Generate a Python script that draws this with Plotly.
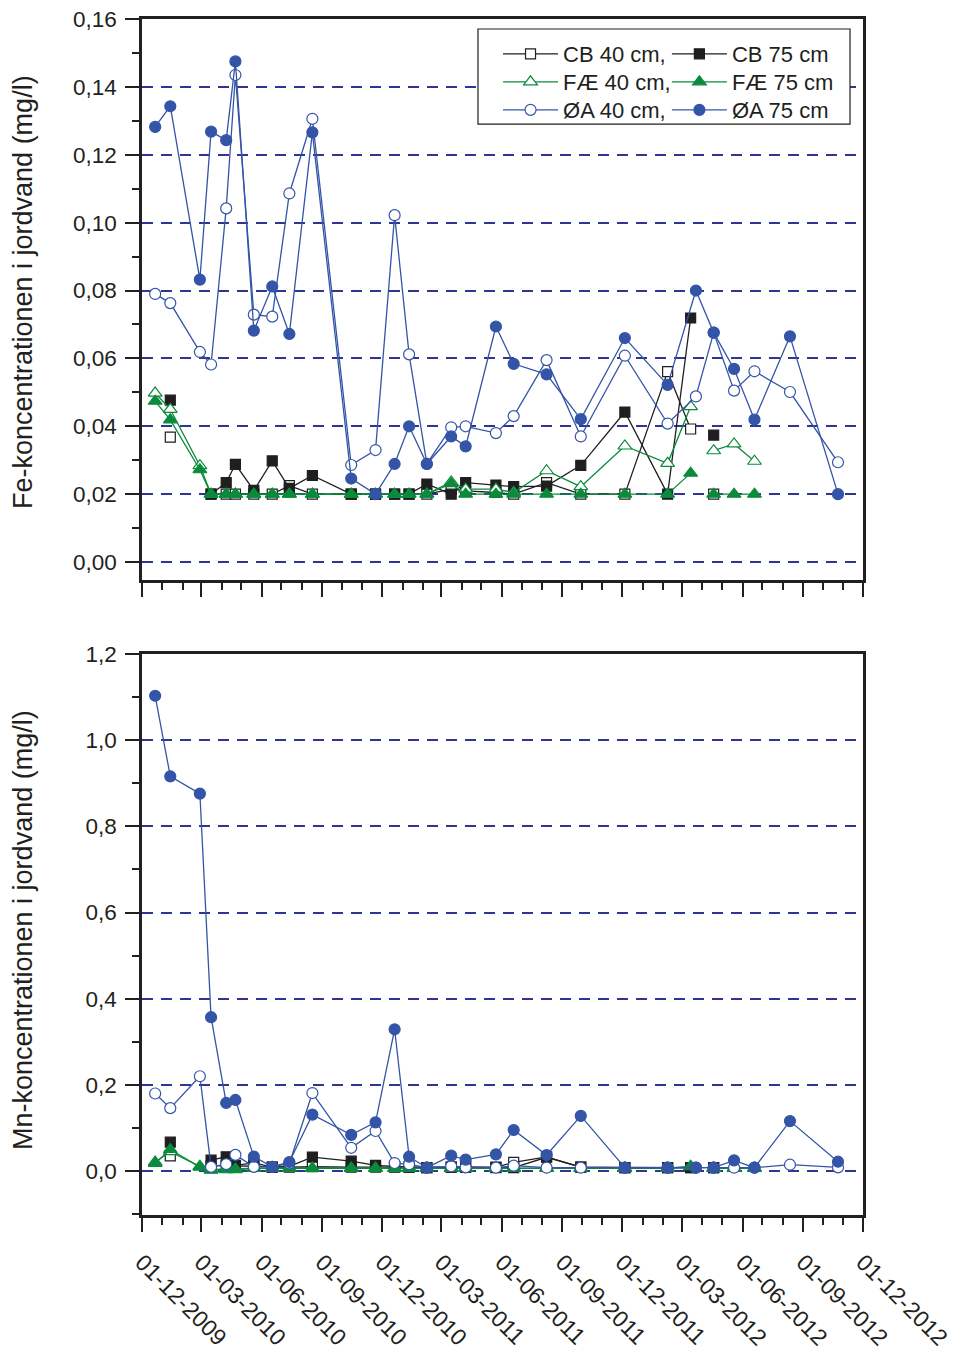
import plotly.graph_objects as go

# Sampling dates (shared by all plots/depths)
dates = [
    "2009-12-21", "2010-01-13", "2010-02-27", "2010-03-16", "2010-04-08",
    "2010-04-22", "2010-05-20", "2010-06-17", "2010-07-13", "2010-08-17",
    "2010-10-15", "2010-11-21", "2010-12-20", "2011-01-11", "2011-02-07",
    "2011-03-16", "2011-04-07", "2011-05-23", "2011-06-19", "2011-08-08",
    "2011-09-29", "2011-12-05", "2012-02-08", "2012-03-14", "2012-03-22",
    "2012-04-18", "2012-05-19", "2012-06-19", "2012-08-12", "2012-10-24",
]

# Fe concentration (mg/l); None = no sample
fe_cb40 = [None, 0.0368, None, 0.020, 0.020, 0.020, 0.020, 0.020, 0.0225, 0.020,
           0.020, 0.020, 0.020, 0.020, 0.020, 0.0215, 0.021, 0.0205, 0.020, 0.0234,
           0.020, 0.020, 0.0561, 0.0392, None, 0.020, None, None, None, None]
fe_cb75 = [None, 0.0477, None, 0.020, 0.0234, 0.0288, 0.0211, 0.0298, 0.0217, 0.0255,
           0.020, 0.020, 0.020, 0.020, 0.0230, 0.020, 0.0234, 0.0227, 0.0222, 0.0224,
           0.0285, 0.0442, 0.020, 0.0719, None, 0.0374, None, None, None, None]
fe_fae40 = [0.0498, 0.045, 0.0284, 0.020, 0.020, 0.020, 0.020, 0.020, 0.020, 0.020,
            0.020, 0.020, 0.020, 0.020, 0.020, 0.0236, 0.0215, 0.0215, 0.0205, 0.0269,
            0.0222, 0.0342, 0.0291, 0.0458, None, 0.0328, 0.0348, 0.0297, None, None]
fe_fae75 = [0.0474, 0.0419, 0.0272, 0.020, 0.020, 0.020, 0.020, 0.020, 0.020, 0.020,
            0.020, 0.020, 0.020, 0.020, 0.020, 0.0231, 0.020, 0.020, 0.020, 0.020,
            0.020, 0.020, 0.020, 0.0262, None, 0.020, 0.020, 0.020, None, None]
fe_oa40 = [0.079, 0.0763, 0.0619, 0.0582, 0.1042, 0.1435, 0.0729, 0.0723, 0.1086, 0.1306,
           0.0286, 0.033, 0.1022, 0.0612, 0.0289, 0.0397, 0.040, 0.038, 0.043, 0.0595,
           0.037, 0.0608, 0.0408, None, 0.0488, 0.0676, 0.0505, 0.0562, 0.0501, 0.0294]
fe_oa75 = [0.1282, 0.1343, 0.0832, 0.1268, 0.1243, 0.1475, 0.0682, 0.0812, 0.0672, 0.1266,
           0.0246, 0.020, 0.0289, 0.040, 0.0289, 0.037, 0.0341, 0.0694, 0.0584, 0.0553,
           0.0421, 0.066, 0.0522, None, 0.080, 0.0676, 0.0569, 0.042, 0.0665, 0.020]

# Mn concentration (mg/l)
mn_cb40 = [None, 0.035, None, 0.012, 0.012, 0.013, 0.019, 0.009, 0.009, 0.010,
           0.009, 0.009, 0.009, 0.009, 0.008, 0.009, 0.009, 0.009, 0.020, 0.033,
           0.009, 0.008, 0.008, 0.008, None, 0.008, None, None, None, None]
mn_cb75 = [None, 0.067, None, 0.0255, 0.033, 0.0116, 0.012, 0.009, 0.011, 0.0325,
           0.023, 0.013, 0.010, 0.009, 0.008, 0.009, 0.009, 0.008, 0.008, 0.032,
           0.009, 0.008, 0.008, 0.008, None, 0.008, None, None, None, None]
mn_fae40 = [0.021, 0.045, 0.011, 0.003, 0.005, 0.005, 0.007, 0.007, 0.007, 0.007,
            0.007, 0.007, 0.007, 0.007, 0.007, 0.007, 0.007, 0.007, 0.007, 0.007,
            0.007, 0.007, 0.007, 0.011, None, 0.007, 0.007, 0.007, None, None]
mn_fae75 = [0.018, 0.050, 0.009, 0.002, 0.003, 0.003, 0.006, 0.006, 0.006, 0.006,
            0.006, 0.006, 0.006, 0.006, 0.006, 0.006, 0.006, 0.006, 0.006, 0.006,
            0.006, 0.006, 0.006, 0.010, None, 0.006, 0.006, 0.006, None, None]
mn_oa40 = [0.18, 0.146, 0.22, 0.0096, 0.016, 0.0375, 0.0096, 0.010, 0.0176, 0.181,
           0.054, 0.093, 0.0186, 0.0155, 0.0078, 0.011, 0.0085, 0.0078, 0.0124, 0.0078,
           0.0078, 0.0078, 0.0078, None, 0.0078, 0.0078, 0.0078, 0.0078, 0.0147, 0.0085]
mn_oa75 = [1.103, 0.916, 0.876, 0.357, 0.158, 0.165, 0.0335, 0.0096, 0.021, 0.131,
           0.084, 0.113, 0.329, 0.0333, 0.0078, 0.0357, 0.0264, 0.0388, 0.0953, 0.0372,
           0.128, 0.0078, 0.0078, None, 0.0078, 0.0078, 0.0248, 0.0078, 0.116, 0.0217]

BLACK = "#1f1f1f"
GREEN = "#0b8a3c"
BLUE = "#3454a8"
GRID = "#2e3592"
AXIS = "#231f20"
FONT = "Liberation Sans, Arial, sans-serif"

# (name, legend id, colour, symbol, open marker?, connect gaps?, fe, mn)
series = [
    ("CB 40 cm,", "legend", BLACK, "square", True, False, fe_cb40, mn_cb40),
    ("CB 75 cm", "legend2", BLACK, "square", False, False, fe_cb75, mn_cb75),
    ("FÆ 40 cm,", "legend3", GREEN, "triangle-up", True, False, fe_fae40, mn_fae40),
    ("FÆ 75 cm", "legend4", GREEN, "triangle-up", False, False, fe_fae75, mn_fae75),
    ("ØA 40 cm,", "legend5", BLUE, "circle", True, True, fe_oa40, mn_oa40),
    ("ØA 75 cm", "legend6", BLUE, "circle", False, True, fe_oa75, mn_oa75),
]

fig = go.Figure()
for name, leg, col, sym, hollow, gaps, fe, mn in series:
    size = {"square": 10, "triangle-up": 12, "circle": 11}[sym]
    marker = dict(symbol=sym, size=size,
                  color="white" if hollow else col,
                  line=dict(color=col, width=1.2))
    for yvals, xa, ya, show in ((fe, "x", "y", True), (mn, "x2", "y2", False)):
        fig.add_trace(go.Scatter(
            x=dates, y=yvals, xaxis=xa, yaxis=ya, name=name,
            mode="lines+markers", connectgaps=gaps,
            line=dict(color=col, width=1.3), marker=marker,
            showlegend=show, legend=leg,
        ))

common_x = dict(
    type="date", range=["2009-12-01", "2012-12-01"],
    tick0="2009-12-01", dtick="M3", tickformat="%d-%m-%Y",
    ticks="outside", ticklen=14, tickwidth=2, tickcolor=AXIS,
    minor=dict(dtick="M1", ticks="outside", ticklen=7, tickwidth=2, tickcolor=AXIS),
    showline=True, linecolor=AXIS, linewidth=2.5, mirror=True,
    showgrid=False, zeroline=False, automargin=False,
)
common_y = dict(
    ticks="outside", ticklen=14, tickwidth=2, tickcolor=AXIS,
    showline=True, linecolor=AXIS, linewidth=2.5, mirror=True,
    showgrid=True, gridcolor=GRID, gridwidth=2, griddash="11px,8px",
    zeroline=False, ticklabelstandoff=4, automargin=False,
    tickfont=dict(size=22.5, color=AXIS),
)

# one legend per entry, laid out as a 2 x 3 grid
leg_cols = [0.4938, 0.728]
leg_rows = [0.9707, 0.9473, 0.9239]
legends = {}
for i, key in enumerate(["legend", "legend2", "legend3", "legend4", "legend5", "legend6"]):
    legends[key] = dict(x=leg_cols[i % 2], y=leg_rows[i // 2],
                        xanchor="left", yanchor="middle",
                        bgcolor="rgba(0,0,0,0)", font=dict(size=22, color=AXIS),
                        itemwidth=55, borderwidth=0)

fig.update_layout(
    width=957, height=1351,
    margin=dict(l=142, r=94, t=19, b=136, autoexpand=False),
    paper_bgcolor="white", plot_bgcolor="white",
    font=dict(family=FONT, size=22, color=AXIS),
    separators=", ",
    xaxis=dict(common_x, domain=[0, 1], anchor="y", showticklabels=False),
    yaxis=dict(common_y, domain=[0.5309, 1], anchor="x",
               range=[-0.0053, 0.16], dtick=0.02, tickformat=".2f",
               minor=dict(dtick=0.01, ticks="outside", ticklen=7, tickwidth=2,
                          tickcolor=AXIS, showgrid=False)),
    xaxis2=dict(common_x, domain=[0, 1], anchor="y2", tickangle=45,
                tickfont=dict(size=23, color=AXIS), ticklabelstandoff=8),
    yaxis2=dict(common_y, domain=[0, 0.4691], anchor="x2",
                range=[-0.102, 1.2], dtick=0.2, tickformat=".1f",
                minor=dict(dtick=0.1, ticks="outside", ticklen=7, tickwidth=2,
                           tickcolor=AXIS, showgrid=False)),
    showlegend=True,
    **legends,
)

# y-axis titles, rotated, in the left margin
for text, ypos in (("Fe-koncentrationen i jordvand (mg/l)", 0.7717),
                   ("Mn-koncentrationen i jordvand (mg/l)", 0.2383)):
    fig.add_annotation(text=text, xref="paper", yref="paper",
                       x=-0.165, y=ypos, xanchor="center", yanchor="middle",
                       textangle=-90, showarrow=False,
                       font=dict(size=27, color=AXIS))

# white frame behind the legend entries
fig.add_shape(type="rect", xref="x domain", yref="y domain",
              x0=0.466, x1=0.982, y0=0.8128, y1=0.9822,
              line=dict(color=AXIS, width=1.2), fillcolor="white", layer="above")

fig.write_html("out.html")
